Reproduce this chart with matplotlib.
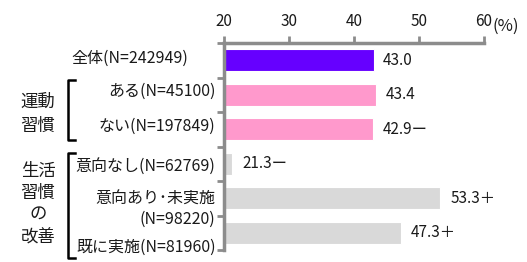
import matplotlib
matplotlib.use("Agg")
import matplotlib.pyplot as plt
from matplotlib.transforms import blended_transform_factory

plt.rcParams['font.family'] = ['Noto Sans CJK JP', 'DejaVu Sans']

categories = ["全体(N=242949)", "ある(N=45100)", "ない(N=197849)",
              "意向なし(N=62769)", "意向あり･未実施\n(N=98220)", "既に実施(N=81960)"]
values = [43.0, 43.4, 42.9, 21.3, 53.3, 47.3]
marks = ["", "", "ー", "ー", "＋", "＋"]
colors = ["#6600FF", "#FF99CC", "#FF99CC", "#D9D9D9", "#D9D9D9", "#D9D9D9"]
xticks = [20, 30, 40, 50, 60]
group1 = "運動\n習慣"
group2 = "生活\n習慣\nの\n改善"

fig = plt.figure(figsize=(5.27, 2.62), dpi=100)
ax = fig.add_axes([224/527, 1-250/262, 260/527, 207/262])

y = list(range(len(values)))
ax.barh(y, [v - 20 for v in values], left=20, height=0.64, color=colors,
        edgecolor="white", linewidth=0.8)
ax.set_xlim(20, 60)
ax.set_ylim(5.5, -0.5)

for yi, v, m in zip(y, values, marks):
    ax.annotate(f"{v:.1f}{m}", xy=(v, yi), xytext=(7, 0), textcoords="offset points",
                ha="left", va="center", fontsize=11, color="#1a1a1a")

ax.xaxis.tick_top()
ax.set_xticks(xticks)
ax.set_xticklabels([str(t) for t in xticks], fontsize=11, color="#1a1a1a")
ax.tick_params(axis="x", direction="out", length=5, width=2, color="#8c8c8c", pad=4)

ax.set_yticks([i - 0.5 for i in range(len(values) + 1)])
ax.set_yticklabels([])
ax.tick_params(axis="y", direction="out", length=5, width=2, color="#8c8c8c")

for s in ["right", "bottom"]:
    ax.spines[s].set_visible(False)
for s in ["top", "left"]:
    ax.spines[s].set_color("#8c8c8c")
    ax.spines[s].set_linewidth(2.5)

# label layout tweaks (vertical offset in category units, horizontal offset in points)
label_dy = [-0.06, -0.09, -0.09, 0.07, 0.32, 0.43]
label_dx = [-25.5, -6, -6, -6, -6, -6]

tr = blended_transform_factory(ax.transAxes, ax.transData)
for i, lab in enumerate(categories):
    ax.annotate(lab, xy=(0, i + label_dy[i]), xycoords=tr, xytext=(label_dx[i], 0),
                textcoords="offset points", ha="right", va="center",
                multialignment="right", fontsize=11.5, color="#1a1a1a", linespacing=1.2)

fig.text(493/527, 1-26/262, "(%)", ha="left", va="center", fontsize=12, color="#1a1a1a")

# brackets
def bracket(y0, y1, x=68, w=7):
    fy0 = 1 - y0/262
    fy1 = 1 - y1/262
    fx = x/527
    fw = w/527
    fig.add_artist(plt.Line2D([fx + fw, fx, fx, fx + fw], [fy0, fy0, fy1, fy1],
                              color="black", linewidth=1.8, transform=fig.transFigure))

bracket(80, 140)
bracket(153, 258)

fig.text(38/527, 1-114/262, group1, ha="center", va="center", fontsize=12.5,
         color="#1a1a1a", linespacing=1.45)
fig.text(38/527, 1-204/262, group2, ha="center", va="center", fontsize=12.5,
         color="#1a1a1a", linespacing=1.3)

fig.savefig("out.png", dpi=100)
